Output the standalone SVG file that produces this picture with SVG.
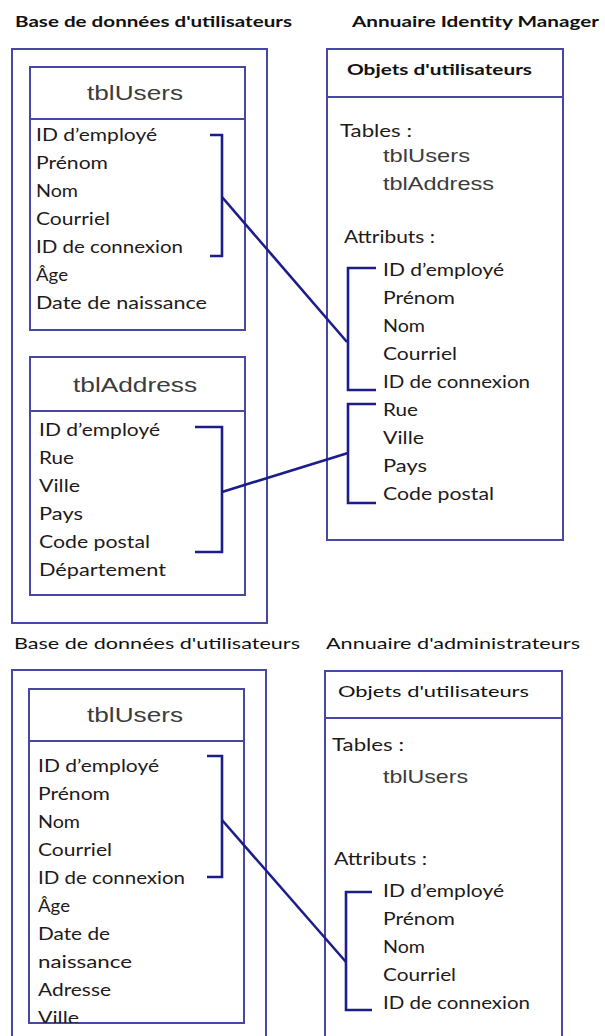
<svg xmlns="http://www.w3.org/2000/svg" width="605" height="1036" viewBox="0 0 605 1036">
<style>
.box{fill:none;stroke:#4747a6;stroke-width:2}
.con{fill:none;stroke:#1c1c8a;stroke-width:2.6}
.hb{font-family:Lato,"Open Sans","Liberation Sans",sans-serif;font-weight:bold;font-size:16px;fill:#111}
.hr{font-family:Lato,"Open Sans","Liberation Sans",sans-serif;font-size:16px;fill:#111}
.row{font-family:Lato,"Open Sans","Liberation Sans",sans-serif;font-size:17px;fill:#1e1a1a}
.tt{font-family:"Liberation Sans",Arial,sans-serif;font-size:21px;fill:#3c3c3c}
.ts{font-family:"Liberation Sans",Arial,sans-serif;font-size:19px;fill:#3c3c3c}
</style>
<defs>
<clipPath id="clipB"><rect x="29" y="741" width="215" height="282"/></clipPath>
</defs>
<rect width="605" height="1036" fill="#fff"/>

<!-- top section -->
<g id="title-db-top"><text class="hb" x="15" y="27" textLength="277" lengthAdjust="spacingAndGlyphs">Base de données d'utilisateurs</text></g>
<g id="title-im-top"><text class="hb" x="352" y="27" textLength="247" lengthAdjust="spacingAndGlyphs">Annuaire Identity Manager</text></g>

<g id="db-top">
<rect class="box" x="12" y="49" width="255" height="574"/>
</g>

<g id="tblUsers-top">
<rect class="box" x="30" y="67" width="215" height="263"/>
<line class="box" x1="30" y1="119" x2="245" y2="119"/>
<text class="tt" x="87" y="100" textLength="96" lengthAdjust="spacingAndGlyphs">tblUsers</text>
<text class="row" x="36" y="141" textLength="121" lengthAdjust="spacingAndGlyphs">ID d’employé</text>
<text class="row" x="36" y="169" textLength="72" lengthAdjust="spacingAndGlyphs">Prénom</text>
<text class="row" x="36" y="197" textLength="42" lengthAdjust="spacingAndGlyphs">Nom</text>
<text class="row" x="36" y="225" textLength="74" lengthAdjust="spacingAndGlyphs">Courriel</text>
<text class="row" x="36" y="253" textLength="147" lengthAdjust="spacingAndGlyphs">ID de connexion</text>
<text class="row" x="36" y="281" textLength="32" lengthAdjust="spacingAndGlyphs">Âge</text>
<text class="row" x="36" y="309" textLength="171" lengthAdjust="spacingAndGlyphs">Date de naissance</text>
</g>

<g id="tblAddress-top">
<rect class="box" x="30" y="357" width="215" height="238"/>
<line class="box" x1="30" y1="411" x2="245" y2="411"/>
<text class="tt" x="73" y="392" textLength="124" lengthAdjust="spacingAndGlyphs">tblAddress</text>
<text class="row" x="39" y="436" textLength="121" lengthAdjust="spacingAndGlyphs">ID d’employé</text>
<text class="row" x="39" y="464" textLength="35" lengthAdjust="spacingAndGlyphs">Rue</text>
<text class="row" x="39" y="492" textLength="41" lengthAdjust="spacingAndGlyphs">Ville</text>
<text class="row" x="39" y="520" textLength="44" lengthAdjust="spacingAndGlyphs">Pays</text>
<text class="row" x="39" y="548" textLength="111" lengthAdjust="spacingAndGlyphs">Code postal</text>
<text class="row" x="39" y="576" textLength="127" lengthAdjust="spacingAndGlyphs">Département</text>
</g>

<g id="im-objects-top">
<rect class="box" x="327" y="49" width="236" height="491"/>
<line class="box" x1="327" y1="97" x2="563" y2="97"/>
<text class="hb" x="347" y="75" textLength="185" lengthAdjust="spacingAndGlyphs">Objets d'utilisateurs</text>
<text class="row" x="340" y="137" textLength="72" lengthAdjust="spacingAndGlyphs">Tables :</text>
<text class="ts" x="383" y="162" textLength="87" lengthAdjust="spacingAndGlyphs">tblUsers</text>
<text class="ts" x="383" y="190" textLength="111" lengthAdjust="spacingAndGlyphs">tblAddress</text>
<text class="row" x="344" y="243" textLength="91" lengthAdjust="spacingAndGlyphs">Attributs :</text>
<text class="row" x="383" y="276" textLength="121" lengthAdjust="spacingAndGlyphs">ID d’employé</text>
<text class="row" x="383" y="304" textLength="72" lengthAdjust="spacingAndGlyphs">Prénom</text>
<text class="row" x="383" y="332" textLength="42" lengthAdjust="spacingAndGlyphs">Nom</text>
<text class="row" x="383" y="360" textLength="74" lengthAdjust="spacingAndGlyphs">Courriel</text>
<text class="row" x="383" y="388" textLength="147" lengthAdjust="spacingAndGlyphs">ID de connexion</text>
<text class="row" x="383" y="416" textLength="35" lengthAdjust="spacingAndGlyphs">Rue</text>
<text class="row" x="383" y="444" textLength="41" lengthAdjust="spacingAndGlyphs">Ville</text>
<text class="row" x="383" y="472" textLength="44" lengthAdjust="spacingAndGlyphs">Pays</text>
<text class="row" x="383" y="500" textLength="111" lengthAdjust="spacingAndGlyphs">Code postal</text>
</g>

<!-- bottom section -->
<g id="title-db-bottom"><text class="hr" x="14" y="649" textLength="286" lengthAdjust="spacingAndGlyphs">Base de données d'utilisateurs</text></g>
<g id="title-admin-bottom"><text class="hr" x="326" y="649" textLength="254" lengthAdjust="spacingAndGlyphs">Annuaire d'administrateurs</text></g>

<g id="db-bottom">
<rect class="box" x="12" y="670" width="254" height="400"/>
</g>

<g id="tblUsers-bottom">
<rect class="box" x="29" y="689" width="215" height="334"/>
<line class="box" x1="29" y1="741" x2="244" y2="741"/>
<text class="tt" x="87" y="722" textLength="96" lengthAdjust="spacingAndGlyphs">tblUsers</text>
<g clip-path="url(#clipB)">
<text class="row" x="38" y="772" textLength="121" lengthAdjust="spacingAndGlyphs">ID d’employé</text>
<text class="row" x="38" y="800" textLength="72" lengthAdjust="spacingAndGlyphs">Prénom</text>
<text class="row" x="38" y="828" textLength="42" lengthAdjust="spacingAndGlyphs">Nom</text>
<text class="row" x="38" y="856" textLength="74" lengthAdjust="spacingAndGlyphs">Courriel</text>
<text class="row" x="38" y="884" textLength="147" lengthAdjust="spacingAndGlyphs">ID de connexion</text>
<text class="row" x="38" y="912" textLength="32" lengthAdjust="spacingAndGlyphs">Âge</text>
<text class="row" x="38" y="940" textLength="72" lengthAdjust="spacingAndGlyphs">Date de</text>
<text class="row" x="38" y="968" textLength="94" lengthAdjust="spacingAndGlyphs">naissance</text>
<text class="row" x="38" y="996" textLength="73" lengthAdjust="spacingAndGlyphs">Adresse</text>
<text class="row" x="38" y="1024" textLength="41" lengthAdjust="spacingAndGlyphs">Ville</text>
</g>
</g>

<g id="admin-objects-bottom">
<rect class="box" x="325" y="671" width="237" height="400"/>
<line class="box" x1="325" y1="718" x2="562" y2="718"/>
<text class="hr" x="338" y="697" textLength="191" lengthAdjust="spacingAndGlyphs">Objets d'utilisateurs</text>
<text class="row" x="332" y="751" textLength="72" lengthAdjust="spacingAndGlyphs">Tables :</text>
<text class="ts" x="383" y="783" textLength="85" lengthAdjust="spacingAndGlyphs">tblUsers</text>
<text class="row" x="334" y="865" textLength="93" lengthAdjust="spacingAndGlyphs">Attributs :</text>
<text class="row" x="383" y="897" textLength="121" lengthAdjust="spacingAndGlyphs">ID d’employé</text>
<text class="row" x="383" y="925" textLength="72" lengthAdjust="spacingAndGlyphs">Prénom</text>
<text class="row" x="383" y="953" textLength="42" lengthAdjust="spacingAndGlyphs">Nom</text>
<text class="row" x="383" y="981" textLength="73" lengthAdjust="spacingAndGlyphs">Courriel</text>
<text class="row" x="383" y="1009" textLength="147" lengthAdjust="spacingAndGlyphs">ID de connexion</text>
</g>

<g id="connectors">
<path class="con" d="M210,135 H222 V256 H210"/>
<path class="con" d="M222,197 L347,342"/>
<path class="con" d="M376,268 H348 V390 H376"/>
<path class="con" d="M195,427 H222 V552 H195"/>
<path class="con" d="M222,492 L348,453"/>
<path class="con" d="M376,404 H348 V503 H376"/>
<path class="con" d="M207,756 H222 V877 H207"/>
<path class="con" d="M222,820 L346,962"/>
<path class="con" d="M372,892 H346 V1010 H372"/>
</g>
</svg>
